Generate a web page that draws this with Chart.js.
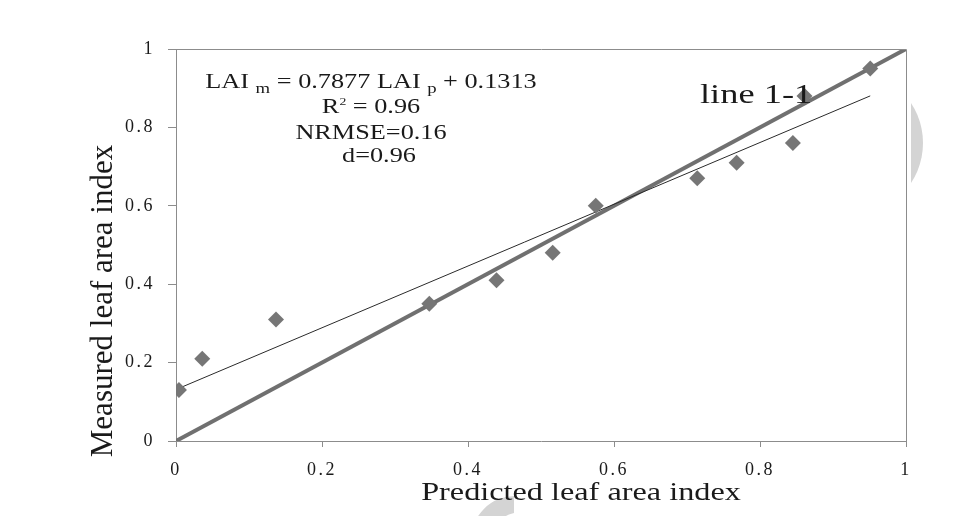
<!DOCTYPE html>
<html>
<head>
<meta charset="utf-8">
<script src="https://cdn.jsdelivr.net/npm/chart.js@4.4.0/dist/chart.umd.min.js"></script>
<style>
  html, body { margin: 0; padding: 0; background: #fff; }
  canvas { display: block; }
</style>
</head>
<body>
<canvas id="lai" width="976" height="516"></canvas>
<script>
// predicted vs measured leaf area index
const predicted = [0.004, 0.036, 0.137, 0.347, 0.439, 0.516, 0.575, 0.714, 0.768, 0.845, 0.861, 0.951];
const measured  = [0.13, 0.21, 0.31, 0.35, 0.41, 0.48, 0.60, 0.67, 0.71, 0.76, 0.88, 0.95];
const fitSlope = 0.7877;
const fitIntercept = 0.1313;
const axisTicks = [0, 0.2, 0.4, 0.6, 0.8, 1];
const identityLine = [0, 1];

const xTitle = 'Predicted leaf area index';
const yTitle = 'Measured leaf area index';
const oneToOneLabel = 'line 1-1';

const axisGray = '#8c8c8c';
const ink = '#1a1a1a';
const serif = '"Liberation Serif", "Times New Roman", serif';

const points = predicted.map((x, i) => ({ x: x, y: measured[i] }));
const fitEnds = [Math.min(...predicted), Math.max(...predicted)]
  .map(x => ({ x: x, y: fitSlope * x + fitIntercept }));
const identity = identityLine.map(v => ({ x: v, y: v }));

// draws a run of text pieces side by side, stretched horizontally by sx
function drawRun(ctx, pieces, x, y, sx, align) {
  let total = 0;
  pieces.forEach(p => {
    ctx.font = p.s + 'px ' + serif;
    p.w = ctx.measureText(p.t).width * sx;
    total += p.w;
  });
  let cx = align === 'center' ? x - total / 2 : x;
  pieces.forEach(p => {
    ctx.save();
    ctx.font = p.s + 'px ' + serif;
    ctx.translate(cx, y + (p.dy || 0));
    ctx.scale(sx, 1);
    ctx.textAlign = 'left';
    ctx.textBaseline = 'alphabetic';
    ctx.fillText(p.t, 0, 0);
    ctx.restore();
    cx += p.w;
  });
}

const decorations = {
  id: 'decorations',
  beforeDraw(chart) {
    const ctx = chart.ctx;
    ctx.save();
    ctx.fillStyle = '#d4d4d4';
    // pale arc right of the frame
    ctx.beginPath();
    ctx.rect(911, 0, 65, 516);
    ctx.clip();
    ctx.beginPath();
    ctx.arc(850, 143, 73, 0, Math.PI * 2);
    ctx.fill();
    ctx.restore();

    ctx.save();
    ctx.fillStyle = '#d4d4d4';
    ctx.beginPath();
    ctx.rect(0, 490, 514, 26);
    ctx.clip();
    ctx.beginPath();
    ctx.arc(515, 540, 44, 0, Math.PI * 2);
    ctx.arc(522, 546, 34, 0, Math.PI * 2);
    ctx.fill('evenodd');
    ctx.restore();

    // wider tracking for the tick labels
    ctx.letterSpacing = '2.5px';
  },
  afterDraw(chart) {
    const ctx = chart.ctx;
    const a = chart.chartArea;
    ctx.save();
    ctx.letterSpacing = '0px';

    // top and right edges of the frame
    ctx.strokeStyle = axisGray;
    ctx.lineWidth = 1;
    ctx.beginPath();
    ctx.moveTo(Math.round(a.left) + 0.5, Math.round(a.top) + 0.5);
    ctx.lineTo(Math.round(a.right) + 0.5, Math.round(a.top) + 0.5);
    ctx.lineTo(Math.round(a.right) + 0.5, Math.round(a.bottom) + 0.5);
    ctx.stroke();

    ctx.fillStyle = ink;

    // axis titles
    drawRun(ctx, [{ t: xTitle, s: 25 }], 581, 500, 1.29, 'center');
    ctx.save();
    ctx.translate(112, 301);
    ctx.rotate(-Math.PI / 2);
    ctx.font = '31px ' + serif;
    ctx.textAlign = 'center';
    ctx.textBaseline = 'alphabetic';
    ctx.fillText(yTitle, 0, 0);
    ctx.restore();

    // regression statistics
    drawRun(ctx, [
      { t: 'LAI ', s: 21 },
      { t: 'm', s: 15, dy: 5 },
      { t: ' = ' + fitSlope + ' LAI ', s: 21 },
      { t: 'p', s: 15, dy: 5 },
      { t: ' + ' + fitIntercept, s: 21 }
    ], 371, 88, 1.25, 'center');
    drawRun(ctx, [
      { t: 'R', s: 21 },
      { t: '2', s: 11, dy: -8 },
      { t: ' = 0.96', s: 21 }
    ], 371, 113, 1.25, 'center');
    drawRun(ctx, [{ t: 'NRMSE=0.16', s: 21 }], 371, 139, 1.25, 'center');
    drawRun(ctx, [{ t: 'd=0.96', s: 21 }], 379, 162, 1.25, 'center');

    drawRun(ctx, [{ t: oneToOneLabel, s: 28 }], 700, 103, 1.3, 'left');
    ctx.restore();
  }
};

const tickFont = { family: serif, size: 18 };
const tickText = v => String(v);

new Chart(document.getElementById('lai'), {
  type: 'scatter',
  data: {
    datasets: [
      {
        label: 'observations',
        data: points,
        pointStyle: 'rectRot',
        pointRadius: 8,
        pointBackgroundColor: '#767676',
        pointBorderColor: '#767676',
        pointBorderWidth: 0,
        order: 0
      },
      {
        type: 'line',
        label: 'fit',
        data: fitEnds,
        borderColor: '#2a2a2a',
        borderWidth: 1,
        pointRadius: 0,
        fill: false,
        order: 1
      },
      {
        type: 'line',
        label: '1:1',
        data: identity,
        borderColor: '#707070',
        borderWidth: 4,
        pointRadius: 0,
        fill: false,
        order: 2
      }
    ]
  },
  options: {
    responsive: false,
    animation: false,
    events: [],
    layout: { padding: { left: 96, right: 70, top: 49, bottom: 35 } },
    plugins: {
      legend: { display: false },
      tooltip: { enabled: false }
    },
    scales: {
      x: {
        type: 'linear',
        min: 0,
        max: 1,
        afterBuildTicks: s => { s.ticks = axisTicks.map(v => ({ value: v })); },
        afterFit: s => { s.height = 40; },
        grid: { display: true, drawOnChartArea: false, tickLength: 6, color: axisGray },
        border: { display: true, color: axisGray },
        ticks: { font: tickFont, color: ink, padding: 12, maxRotation: 0, callback: tickText }
      },
      y: {
        type: 'linear',
        min: 0,
        max: 1,
        afterBuildTicks: s => { s.ticks = axisTicks.map(v => ({ value: v })); },
        afterFit: s => { s.width = 80; },
        grid: { display: true, drawOnChartArea: false, tickLength: 8, color: axisGray },
        border: { display: true, color: axisGray },
        ticks: { font: tickFont, color: ink, padding: 13, callback: tickText }
      }
    }
  },
  plugins: [decorations]
});
</script>
</body>
</html>
